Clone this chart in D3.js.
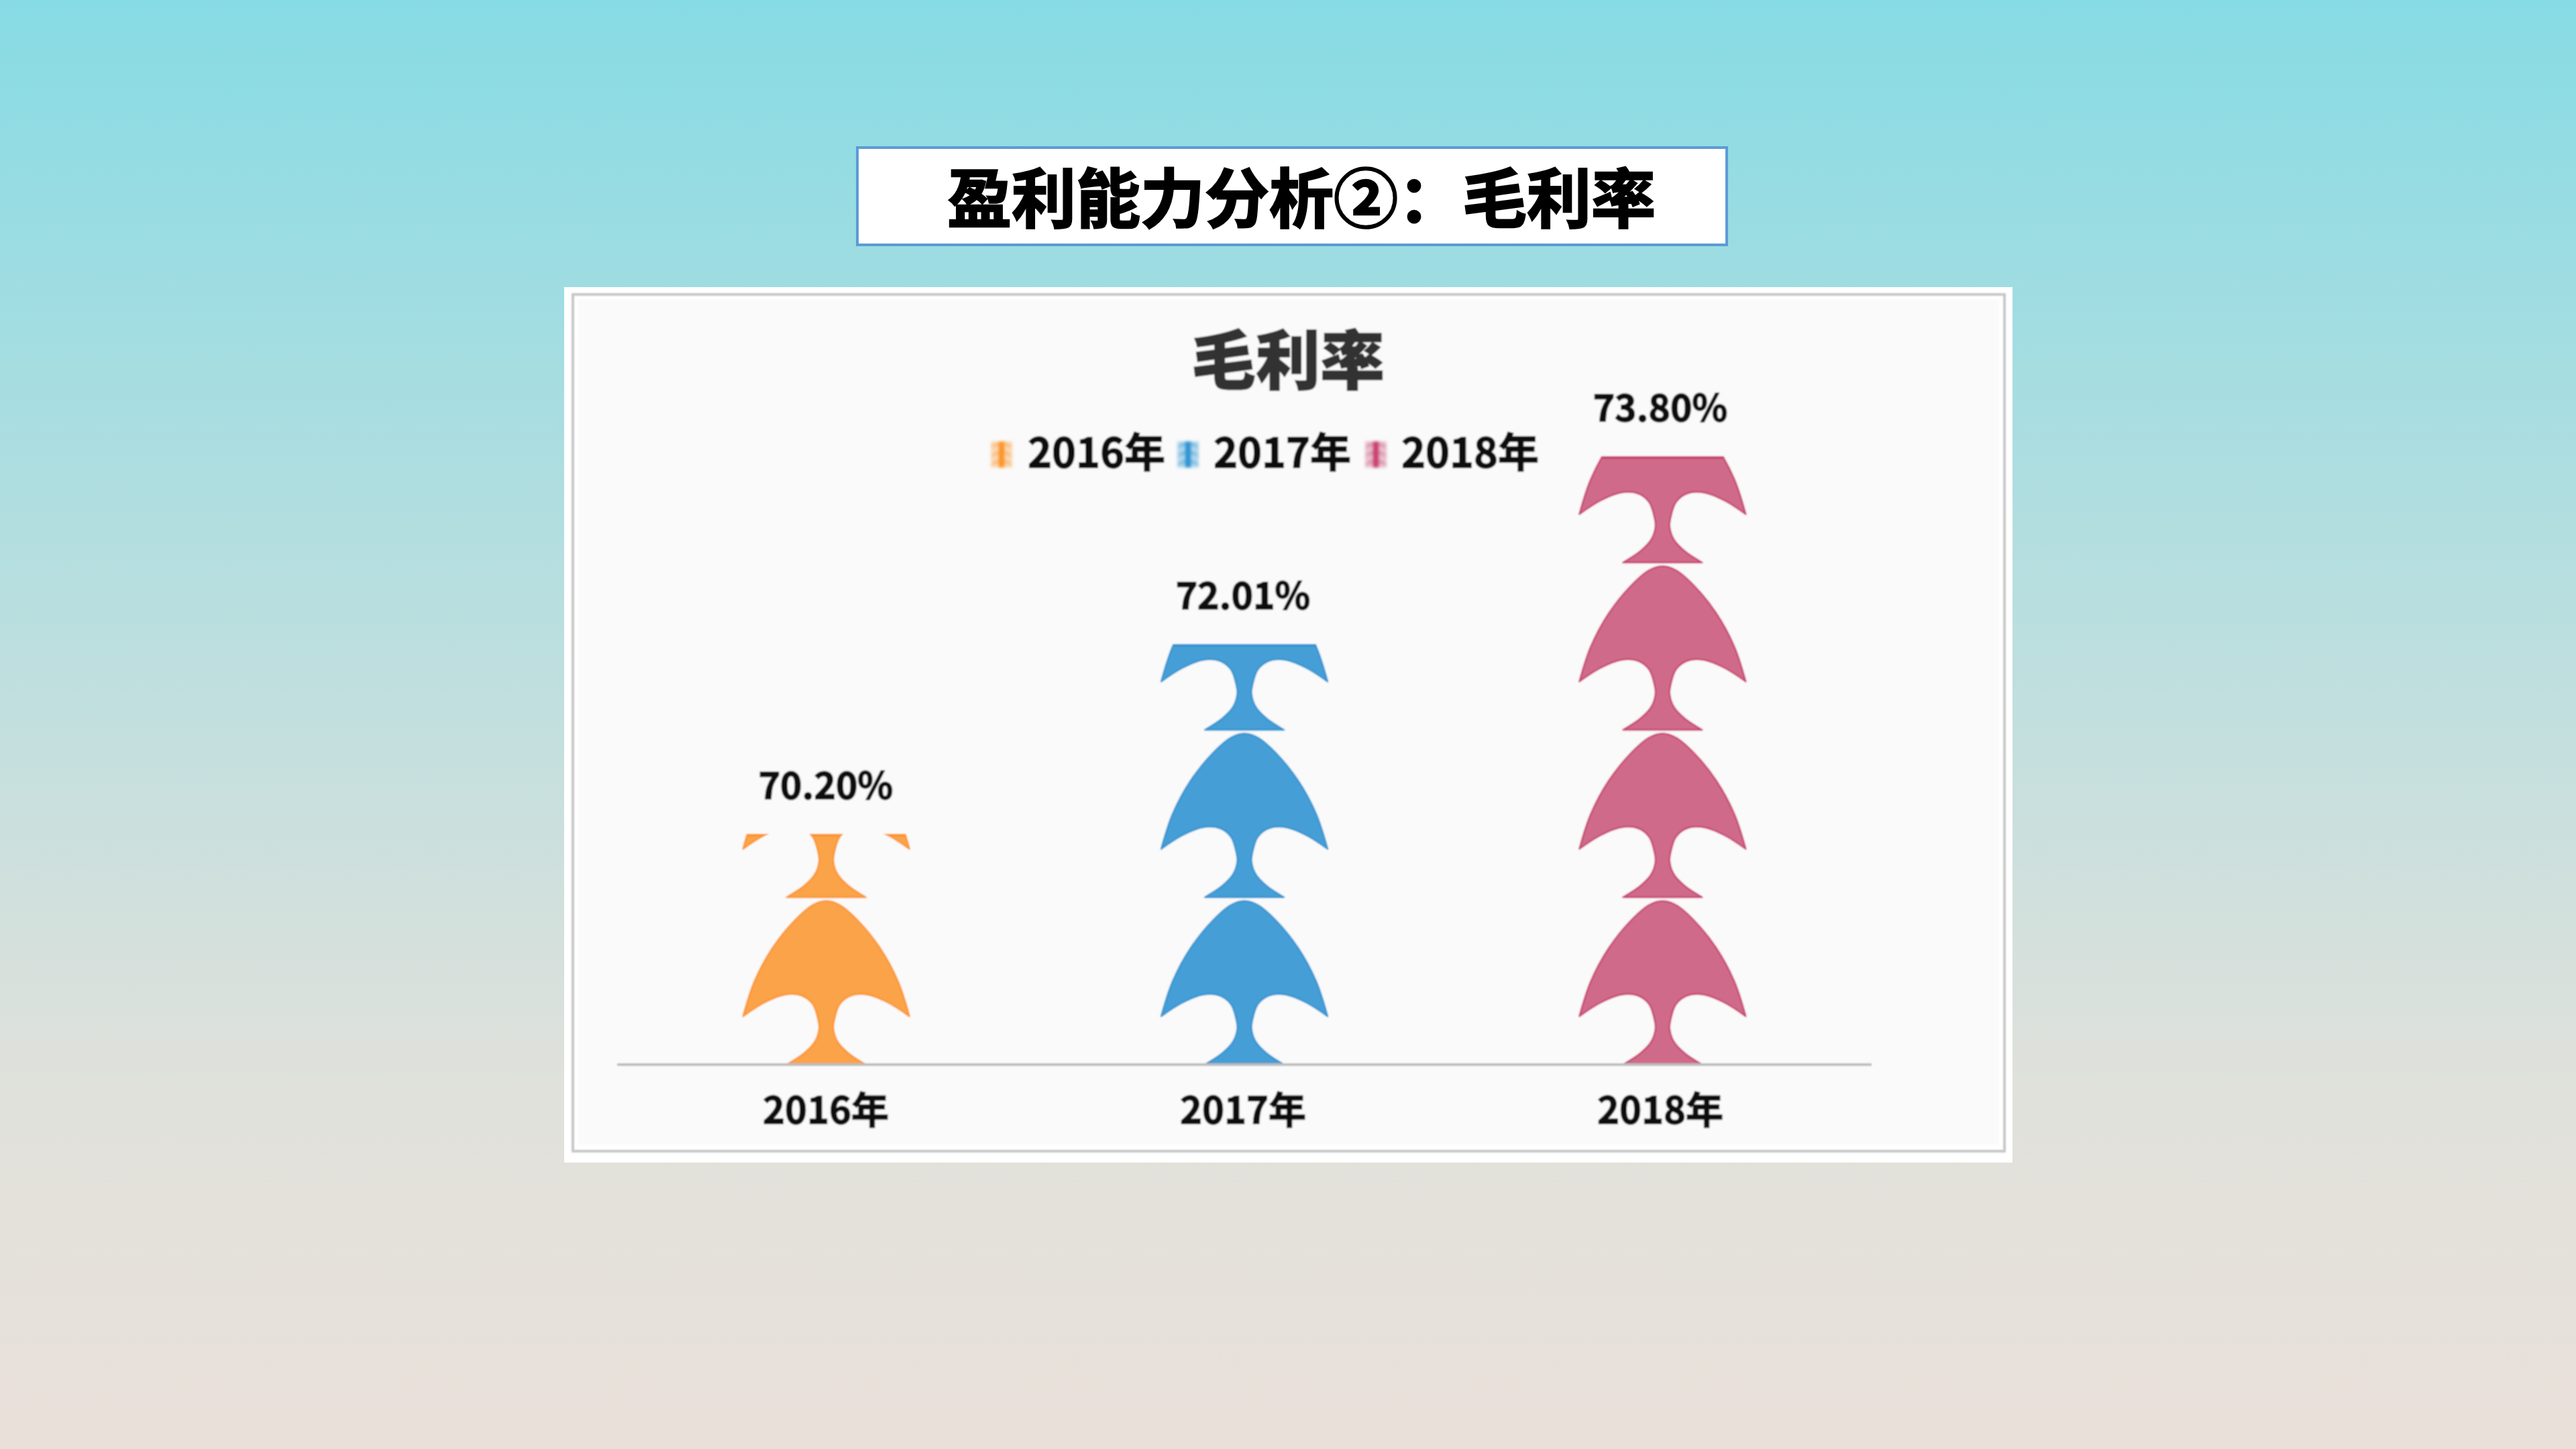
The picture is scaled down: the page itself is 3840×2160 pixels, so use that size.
<!DOCTYPE html>
<html><head><meta charset="utf-8">
<script src="https://cdn.jsdelivr.net/npm/d3@7/dist/d3.min.js"></script>
<style>html,body{margin:0;padding:0;background:#e8e0d8}svg{display:block}
text{font-family:"Noto Sans CJK SC","Noto Sans",sans-serif}</style></head>
<body><svg id="c" width="3840" height="2160"></svg>
<script>
const categories = ["2016年","2017年","2018年"];
const values = [70.20,72.01,73.80];
const valueLabels = ["70.20%","72.01%","73.80%"];
const fills = ["#FBA348","#459FD6","#D06A8B"];
const edges = ["#FB9428","#2F93D2","#C8406C"];
const slideTitle = "盈利能力分析②：毛利率";
const chartTitle = "毛利率";

const svg = d3.select("#c");
const defs = svg.append("defs");
const bg = defs.append("linearGradient").attr("id","bg").attr("x1",0).attr("x2",0).attr("y1",0).attr("y2",1);
[[0,"#87DBE4"],[0.75,"#E0E1DB"],[1,"#E9E0D9"]].forEach(s=>bg.append("stop").attr("offset",s[0]).attr("stop-color",s[1]));
defs.append("filter").attr("id","soft").attr("x","-5%").attr("y","-5%").attr("width","110%").attr("height","110%")
  .append("feGaussianBlur").attr("stdDeviation",1.1);
defs.append("filter").attr("id","softer").attr("x","-30%").attr("y","-30%").attr("width","160%").attr("height","160%")
  .append("feGaussianBlur").attr("stdDeviation",2);

svg.append("rect").attr("width",3840).attr("height",2160).attr("fill","url(#bg)");

// slide heading box
svg.append("rect").attr("x",1278).attr("y",220).attr("width",1296).attr("height",145)
  .attr("fill","#fff").attr("stroke","#5B9BD5").attr("stroke-width",4);
svg.append("text").attr("x",1412).attr("y",331).attr("font-size",96).attr("font-weight",700)
  .attr("fill","#000").attr("stroke","#000").attr("stroke-width",2.5).text(slideTitle);

// chart panel
svg.append("rect").attr("x",841).attr("y",428).attr("width",2159).attr("height",1305).attr("fill","#fff");
const plot = svg.append("g").attr("filter","url(#soft)");
plot.append("rect").attr("x",854).attr("y",439).attr("width",2134).attr("height",1277)
  .attr("fill","#fff").attr("stroke","#c6c6c6").attr("stroke-width",4);
plot.append("rect").attr("x",862).attr("y",447).attr("width",2118).attr("height",1260).attr("fill","#fafafa");

const x = d3.scaleBand().domain(categories).range([920,2790]);
const labelX = d3.scaleBand().domain(categories).range([920,2786]);
const y = d3.scaleLinear().domain([68,73.8]).range([1587,680]);

// the pictorial symbol, in pixels of one tile: base centre at 0,0, y up
const tileH = 249.5;
const under = [[-59,0],[-33,17],[-17,34],[-10.5,54],[-12,67],[-20,90],[-37,103],[-63,104],[-93,92],[-124,72]];
const over  = [[-124,72],[-107,124],[-80,174],[-47,215],[-20,238],[0,244],[20,238],[47,215],[80,174],[107,124],[124,72]];
const mirror = under.map(p=>[-p[0],p[1]]).reverse();
const seg = d3.line().curve(d3.curveCatmullRom.alpha(0.5)).x(p=>p[0]).y(p=>-p[1]);
const join = s => s.replace(/^M/,"L");
const symbolPath = seg(under)+join(seg(over))+join(seg(mirror))+"Z";

categories.forEach((c,i)=>{
  const cx = x(c)+x.bandwidth()/2, top = y(values[i]), base = y.range()[0];
  const n = Math.ceil((base-top)/tileH);
  defs.append("clipPath").attr("id","clip"+i).append("rect")
    .attr("x",cx-140).attr("y",top).attr("width",280).attr("height",base-top);
  defs.append("clipPath").attr("id","cap"+i).append("rect")
    .attr("x",cx-140).attr("y",top).attr("width",280).attr("height",4);
  const tiles = d3.range(n);
  const g = plot.append("g").attr("clip-path",`url(#clip${i})`);
  g.selectAll("path").data(tiles).join("path")
    .attr("d",symbolPath).attr("transform",k=>`translate(${cx},${base-k*tileH})`)
    .attr("fill",fills[i]).attr("stroke",edges[i]).attr("stroke-width",2.5).attr("stroke-linejoin","round");
  const cap = plot.append("g").attr("clip-path",`url(#cap${i})`);
  cap.selectAll("path").data(tiles).join("path")
    .attr("d",symbolPath).attr("transform",k=>`translate(${cx},${base-k*tileH})`)
    .attr("fill",edges[i]);
  plot.append("text").attr("x",labelX(c)+labelX.bandwidth()/2).attr("y",top-52).attr("text-anchor","middle")
    .attr("font-size",55).attr("font-weight",700).attr("font-family","'Noto Sans','Noto Sans CJK SC'")
    .attr("fill","#0a0a0a").attr("stroke","#0a0a0a").attr("stroke-width",1.6).text(valueLabels[i]);
});

// axis
const axis = d3.axisBottom(labelX).tickSize(0);
const ax = plot.append("g").attr("transform","translate(0,1587)").call(axis);
ax.select(".domain").attr("d","M920,0H2790").attr("stroke","#bcbcbc").attr("stroke-width",4);
ax.selectAll("text").attr("font-size",56).attr("font-weight",700).attr("fill","#0a0a0a")
  .attr("stroke","#0a0a0a").attr("stroke-width",1.4)
  .attr("font-family","'Noto Sans CJK SC'").attr("dy",0).attr("y",88);

// chart title
plot.append("text").attr("x",1920).attr("y",572).attr("text-anchor","middle")
  .attr("font-size",96).attr("font-weight",900).attr("fill","#333").attr("stroke","#333").attr("stroke-width",1.5).text(chartTitle);

// legend
const legendIcons = [1493,1771,2051];
const legendTexts = [1532,1809,2089];
categories.forEach((c,i)=>{
  const lx = legendIcons[i];
  const g = svg.append("g").attr("filter","url(#softer)");
  g.append("rect").attr("x",lx-16).attr("y",658).attr("width",32).attr("height",39).attr("fill",fills[i]).attr("opacity",0.4);
  d3.range(3).forEach(k=>{
    g.append("path").attr("d",symbolPath)
      .attr("transform",`translate(${lx},${697-k*13}) scale(0.13,0.052)`)
      .attr("fill",fills[i]).attr("opacity",0.5);
  });
  g.append("rect").attr("x",lx-4).attr("y",658).attr("width",8).attr("height",39).attr("fill",edges[i]);
  plot.append("text").attr("x",legendTexts[i]).attr("y",697).attr("font-size",61).attr("font-weight",700)
    .attr("fill","#0a0a0a").attr("stroke","#0a0a0a").attr("stroke-width",1.4).text(c);
});
</script></body></html>
